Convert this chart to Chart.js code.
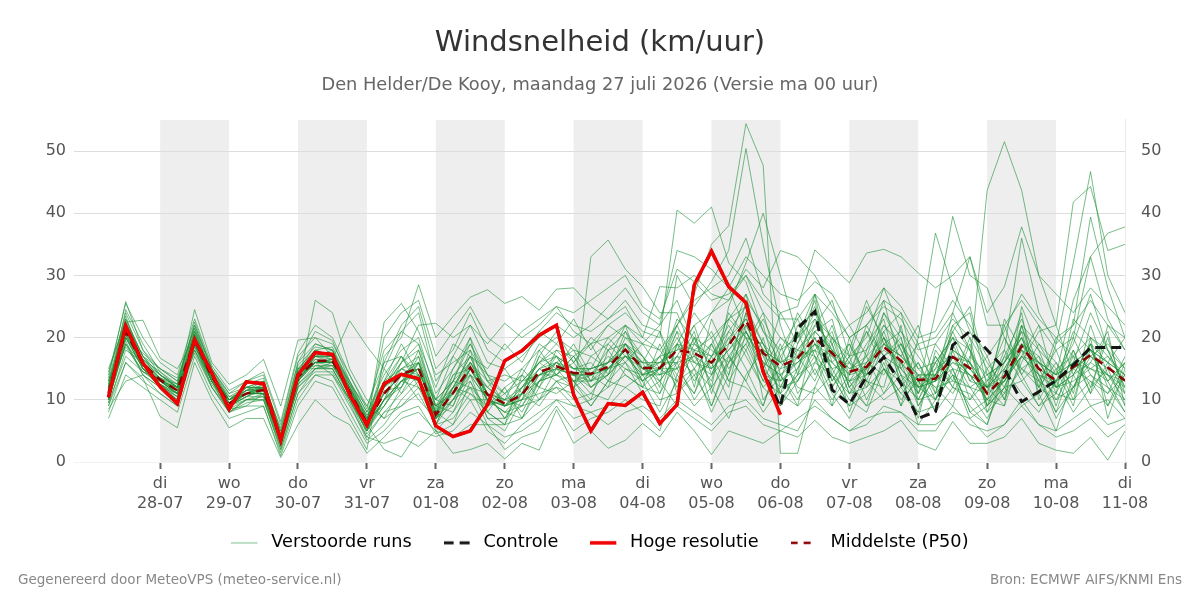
<!DOCTYPE html>
<html>
<head>
<meta charset="utf-8">
<title>Windsnelheid</title>
<script src="https://cdn.jsdelivr.net/npm/chart.js@4.4.1/dist/chart.umd.min.js"></script>
<style>
  body { margin: 0; background: #fff; font-family: "DejaVu Sans", sans-serif; }
  #wrap { position: relative; width: 1200px; height: 600px; }
  .voet { position: absolute; top: 571px; font-size: 13.5px; color: #888; }
</style>
</head>
<body>
<div id="wrap">
  <canvas id="myChart" width="1200" height="600"></canvas>
  <div class="voet" style="left:18px">Gegenereerd door MeteoVPS (meteo-service.nl)</div>
  <div class="voet" style="right:18px">Bron: ECMWF AIFS/KNMI Ens</div>
</div>
<script>
// uren t.o.v. di 28-07 00:00, elke 6 uur
var uren = [-18,-12,-6,0,6,12,18,24,30,36,42,48,54,60,66,72,78,84,90,96,
  102,108,114,120,126,132,138,144,150,156,162,168,174,180,186,192,198,204,210,216,
  222,228,234,240,246,252,258,264,270,276,282,288,294,300,306,312,318,324,330,336]

var dagUren = [0,24,48,72,96,120,144,168,192,216,240,264,288,312,336]
var dagNamen = ["di","wo","do","vr","za","zo","ma","di","wo","do","vr","za","zo","ma","di"]
var datums = ["28-07","29-07","30-07","31-07","01-08","02-08","03-08","04-08","05-08","06-08","07-08","08-08","09-08","10-08","11-08"]
var grijzeDagen = [0,48,96,144,192,240,288]
var yTicks = [0,10,20,30,40,50]

var hogeResolutie = [10.4,21.9,15.9,12.1,9.4,19.7,14.3,8.5,12.9,12.6,
  3.5,14.0,17.6,17.3,10.8,5.9,12.6,14.1,13.4,5.8,
  4.1,5.0,9.2,16.3,17.9,20.4,22.0,10.8,5.0,9.4,
  9.1,11.2,6.2,9.2,28.5,33.9,28.2,25.6,14.5,7.6]

var controle = [10.4,21.9,15.9,12.1,9.4,19.7,14.3,8.5,12.9,12.6,
  3.5,14.0,17.6,17.3,10.8,5.9,12.6,14.1,13.4,5.8,
  4.1,5.0,9.2,16.3,17.9,20.4,22.0,10.8,5.0,9.4,
  9.1,11.2,6.2,9.2,28.5,33.9,28.2,25.6,14.5,8.9,
  21.5,24.2,11.6,9.3,13.7,16.9,12.6,7.0,8.1,18.8,
  21.0,18.0,15.0,9.7,11.3,13.1,15.6,18.4,18.4,18.4]

var middelste = [11.1,21.0,15.8,13.2,11.5,19.6,13.7,9.4,11.0,11.6,
  3.7,13.7,16.3,16.3,11.3,6.3,11.0,14.1,15.1,7.6,
  11.1,15.2,10.8,9.4,10.8,14.5,15.4,14.3,14.2,15.3,
  18.1,15.1,15.1,18.0,17.5,16.0,18.8,22.7,17.5,15.4,
  16.7,19.9,17.5,14.5,15.3,18.5,16.3,13.2,13.4,16.9,
  15.1,11.0,13.7,18.6,15.0,13.1,15.3,17.2,15.2,13.1]

// verstoorde runs
var run1 = [12,23,17,14,12,21,14,10,12,12,4,15,18,17,12,7,
  12,15,17,9,14,17,11,7,12,16,17,13,14,18,19,14,15,
  22,27,35,38,54.4,47.7,1.4,1.4,12,18,11,14,24,20,10,16,12,19,8,14,22,12,16,10,19,9,14]
var run2 = [10,19,14,12,10,18,13,9,10,11,3,12,15,15,10,5,
  9,13,12,6,10,12,9,11,8,13,14,16,12,14,21,17,12,
  30,25,29,34,50.4,35,22,14,20,12,16,21,15,11,14,8,18,10,13,20,15,17,9,18,12,20,11]
var run3 = [13,24,18,15,13,22,15,11,12,13,5,16,19,18,13,8,
  14,18,20,11,15,20,14,13,15,18,20,18,17,19,22,19,18,
  14,20,12,25,32,40,30,20,27,14,9,18,26,15,19,11,22,24,12,9,25,18,11,23,20,7,15]
var run4 = [9,18,16,13,11,19,12,8,10,10,2,11,14,14,9,4,
  8,11,14,5,8,14,7,5,10,11,12,9,10,12,14,12,11,
  16,10,14,20,15,9,18,23,17,9,20,13,12,22,9,14,11,16,43.7,51.5,43.7,30,22,14,19,12,8]
var run5 = [14,25.5,20,16,14,23,15.5,11.5,13,14,6,17,20,19,14,9,
  16,22,25,15,18,24,18,16,18,21,24,22,21,23,26,22,21,
  11,15,8,14,22,17,11,19,24,20,12,9,17,13,7,18,14,9,6,14,21,11,19,32,46.7,30,24]
var run6 = [8,16,13,11,9,18,12,8.5,9,9,1.5,10,14,13,8,3,
  5,8,9,4.5,6,10,5,3,6,8,10,9,8,9,12,10,9,
  19,13,17,12,24,10,14,10,16,22,14,19,23,12,16,11,19,13,17,10,16,21,22,41.8,44.3,34,35]
var run7 = [11,20,15,13,12,20,14,9,11,12,4,14,17,16,11,6,
  22.5,25.5,21,14,16,18,13,11,13,16,18,17,19,22,24,21,20,
  40.5,38.4,41,32,29,21,16,24,19,13,17,25,20,14,10,15,22,18,9,16,20,13,8,16,24,18,12]
var run8 = [12.5,22,16.5,14,12,19,13,10,11.5,13,4.5,15,16,16,12,7.5,
  11,14,15,8,11,16,12,9,13,14,16,14,15,16,18,13,15,
  20,15,19,14,26,22,12,17,23,18,11,16,14,19,12,24,39.5,30,28,20,14,9,13,18,11,16,20]
var run9 = [10.5,21,15,12,10,20.5,14.5,9.5,12,11,3,13,17,17,11,5.5,
  10,13,16,7,9,15,10,9,10,17,15,12,14,17,15,14,17,
  12,18,9,16,20,13,19,11,15,10,14,22,17,9,20,36.8,28,21,16,12,19,14,7,12,16,21,9]
var run10 = [13,20,17.5,15,13,21.5,14,10.5,11,12.5,5.5,16,21,19.5,13,7,
  13,19,14,10,17,14,12,15,11,17,21,16,19,14,20,17,13,
  17,22,14,21,18,12,15,20,25,16,19,14,21,24,13,10,17,12,11,18,13,16,14,26,33,36.8,37.8]
var run11 = [11.5,24.5,19,14.5,12.5,22.5,15,10,12.5,13.5,4,14.5,18,18.5,12.5,9,
  7,9,11,6,7,11,8,6,7,10,12,11,33,35.7,31,28.2,24,
  24,17,21,15,19,24,14,9,21,23,13,17,11,16,9,14,20,16,10,9,17,22,12,20,14,11,17]
var run12 = [9.5,17,14.5,12.5,10.5,18.5,13.5,9,10.5,10.5,2.5,12.5,15.5,15.5,10.5,5,
  11.5,12,18,8.5,13,20,9,10,15,12,16,18,13,16,22,14,16,
  16,21,11,19,27,15,20,17,13,20,16,12,19,21,15,12,9,17,14,16,24,10,15,9,20,17,13]
var run13 = [15,22.5,22.8,16.7,15,20,13,8,9,11,3.5,13,16,14,10,4,
  3,4,2.5,5,1.4,2,3,0.5,3,1.9,8.4,3,5,2.2,3.5,6.2,4,
  8,5,1.2,5,4,3,5,4,6.7,4,3,4,5,6.7,3,1.9,6.5,3,3,4,7,3,1.9,1.4,4,0.3,5]
var run14 = [7,14,12,10,8,17,11,7,8,9,1,9,13,12,7,2,
  17,20,28.5,20,23.4,26.5,27.7,25.5,26.6,24.4,27.8,28,25,23,25,20,18,
  22,26,28,30,36,27,24,25,34.1,31.5,28.8,33.6,34.2,33,30.4,28,30,33,24,28.2,37.8,30,27,24,28,25,22]
var run15 = [12,23.5,16,13.5,11,21,14.5,9.5,11,12,4,14,17.5,16.5,11.5,6.5,
  15,11,16,10,9,16,13,9,11,18,14,12,17,15,16,19,15,
  21,12,23,17,13,20,10,14,27,19,8,15,22,18,11,19,15,8,10,17,15,13,18,11,22,14,10]
var run16 = [10,19.5,14,11,9,19,13,8,10,10.5,3,12,26,24,15,10,
  7,12,17,6,12,11,9,12,7,13,17,13,10,18,14,12,19,
  13,19,16,10,21,16,9,13,18,12,17,10,16,9,14,12,13,20,9,12,19,15,10,15,13,9,16]
var run17 = [11,21.5,15.5,13,11.5,20,14,9.5,11,11.5,3.5,14,16.5,16,11,6,
  10,16,22,22.3,20,22,19,22.3,20,22,25,21,19,20,22,20,28.2,
  28,30,27,26,31,28,34,33,30,25,20,22,25,23,18,19,23,20,15,18,36,24,19,22,26,22,20]
var run18 = [13.5,25.8,18,14,12,24.5,16,12.5,14,16.5,9,19.6,20,17,13,8,
  13,17,12,9,11,18,8,6,14,10,15,19,14,12,19,16,11,
  19,24,20,13,18,23,17,21,14,19,22,17,24,18,12,14,21,15,12,22,14,19,16,12,17,19,15]
var run19 = [9,16,13.5,7.3,5.5,16,10,5.5,7,7,0.7,6,10,7.5,6,1.4,
  4,7,8,5,4,6,6,4,5,7,10,7,8,6,8,9,7,
  10,8,6,9,10,7,6,5,10,7,5,6,9,8,5,5,9,6,5,6,10,6,4,5,7,4,6]
var run20 = [12,20.5,15,13,11,19.5,13.5,9,11,11,3.5,13.5,16,16.5,22.7,18.6,
  15,21,19,12,19,17,15,19,16,21,19,23,18,22,20,19,22,
  26,19,24,28,21,15,24,19,26,13,18,26,19,17,22,13,24,18,11,23,18,12,20,17,11,22,18]
var run21 = [10.5,22,16,12.5,10.5,20,14,10,11.5,12,4,14.5,19,18,12,7,
  12,14,10,7,14,15,11,7,11,15,13,14,11,15,18,12,15,
  15,11,17,22,17,12,9,15,20,15,10,8,15,11,8,17,12,10,15,10,22,14,8,12,18,13,8]
var run22 = [11.5,18.5,14.5,13.5,12,18,12.5,8.5,10,10,2.5,12,14.5,14.5,9.5,3.5,
  6,10,13,9,8,12,6,6,11,9,13,10,11,10,15,13,8,
  13,9,12,7,14,18,11,9,12,9,13,9,11,14,6,10,14,7,9,12,9,11,5,14,9,10,7]
var run23 = [14.5,23,17,15,13.5,21.5,15,11,13,14.5,6.5,17.5,22,20,14,8.5,
  18,21,24,13,17,22,16,15,17,20,22,20,22,25,28,24,22,
  34,33,31,28,33,30,27,26,29,27,22,24,28,25,20,21,26,22,17,21,27,23,20,22,39.4,28,20]
var run24 = [10,20,15,12,10,19,13,9,12,12,4.5,15,15,15,10,5,
  10,15,13,7,12,10,10,8,7,12,11,13,9,13,12,14,10,
  11,14,9,17,13,8,12,13,17,11,7,13,10,12,8,9,15,8,6,15,11,8,13,8,12,15,9]
var run25 = [12,21,16.5,13.5,12.5,21,14.5,10,11,12,3,13,17,17,12,6.5,
  16,17,14,10,13,19,13,14,13,16,19,16,20,18,21,15,17,
  18,22,24,26,30,24,20,18,22,26,17,20,28,21,17,13,21,25,14,11,22,19,14,19,27,18,12]
var run26 = [8.5,13,14,12,11,17.5,12,8,9.5,10,2,11,15,16,11,4.5,
  8,9,12,8,6,13,7,7,9,10,13,12,9,13,16,11,13,
  9,7,5,8,9,6,5,7,9,7,5,7,8,8,6,6,8,7,4,6,9,6,5,7,9,6,7]
var run27 = [13,22.5,17,14,12.5,22,15,10.5,12,13,5,15.5,18.5,18,12.5,7.5,
  12,16,19,9,12,17,14,11,14,19,17,15,15,20,17,16,21,
  15,17,13,23,25,14,13,16,18,21,12,15,20,13,16,10,17,14,12,13,18,16,12,13,15,14,11]
var run28 = [11,19,15.5,13,11.5,20.5,13,9.5,11,11,3.5,13,16,16,11,6,
  2,0.8,5,4.1,5,8,6,2,4,5,9,5,7,8,10,8,5,
  14,11,19,13,12,9,17,12,11,14,9,11,15,10,13,8,12,11,7,12,13,9,11,10,13,11,14]
var run29 = [10,21,16,13,11,19,14,9,10.5,12,3,14,17,18,10.5,5.5,
  9,13,15,8,13,12,11,9,12,14,14,17,12,15,18,13,15,
  23,20,15,24,20,19,13,22,24,17,14,21,17,20,11,16,20,13,12,17,23,15,13,21,18,13,16]
var run30 = [12.5,22,16,12.5,10,20,13.5,9.5,11.5,11.5,4,13.5,16,15.5,11.5,6.5,
  20,24,26,17,21,25,20,18,21,23,25,24,26,28,30,25,23,
  31,29,26,27,30,26,23,23,27,24,20,22,26,24,19,20,24,33,22,22,26,22,18,20,33,23,18]
var run31 = [11.5,20.5,16.5,14.5,12,20,14.5,10,11,11,3,13.5,17,16.5,12,6,
  12,17,13,8,15,19,14,9,12,16,14,17,13,19,16,13,17,
  22,16,19,23,20,15,12,18,17,14,19,13,20,15,11,17,13,12,14,16,20,13,11,17,15,13,16]
var run32 = [10.5,22.5,17,13,11,20.5,13,9,11.5,12.5,4.5,14.5,15.5,15,10,5,
  10,12,16,9,11,13,8,12,14,12,18,15,16,13,19,17,14,
  15,20,18,16,24,19,13,15,22,19,12,16,21,14,12,10,18,16,9,14,17,16,12,14,19,16,11]
var run33 = [12,21.5,16,12,10.5,18.5,13,9,11,11.5,4,13,16,16.5,11,7,
  13,15,14,6,12,17,10,8,9,14,16,13,15,16,17,15,13,
  17,14,16,20,23,18,16,13,19,15,16,14,17,19,13,15,17,14,12,15,19,17,13,16,15,17,14]
var run34 = [9.5,20,15,12.5,11,19,13,9.5,11,11,3.5,12.5,15,15.5,11,6,
  11,14,16,8,10,15,12,10,9,13,15,14,12,14,17,16,15,
  19,16,14,17,21,16,14,17,18,16,13,15,19,16,12,13,15,14,10,13,17,14,13,15,17,14,13]
var run35 = [12,22,15,13,12,20,14,9,10.5,12,4,14,17,17,11.5,6.5,
  12,16,18,10,13,16,11,10,12,15,17,15,14,16,19,15,16,
  18,19,17,21,25,19,16,18,21,18,15,17,20,17,14,14,18,16,12,15,20,16,14,16,18,16,14]
var run36 = [11,21,15.5,13,11,19.5,14,9.5,11,12,3.5,14,16,16,11,6,
  11,14,15,7,11,15,11,9,11,14,15,14,14,15,18,15,15,
  13,15,12,16,19,13,11,14,16,14,11,12,15,13,10,11,14,12,8,11,15,12,10,12,14,12,10]
var run37 = [10,19,14.5,13,12,19,13.5,10,12,12,4,15,18,17,12.5,7,
  9,14,13,8,12,14,10,8,11,13,14,13,13,14,17,14,14,
  21,18,20,23,27,21,18,20,23,20,17,18,22,19,15,16,20,18,13,16,21,18,15,17,20,18,15]
var run38 = [11.5,21.5,16,13.5,11.5,19,14,9,10.5,11.5,3.5,13,16.5,16,10.5,6,
  10,13,15,7,10,14,10,9,10,13,16,14,14,15,18,15,14,
  16,17,15,18,22,17,15,16,19,17,14,15,18,16,13,13,16,15,11,13,18,15,13,15,17,15,13]
var run39 = [12,20,16,14,12,20.5,14,10,11.5,12,4,14,16,16,11.5,6.5,
  12,15,16,8,12,16,11,10,11,15,16,15,15,16,19,16,16,
  19,18,17,19,23,18,16,17,21,18,15,16,19,17,14,14,17,16,12,14,19,16,14,16,18,16,14]
var run40 = [11,20.5,15.5,12.5,11,19.5,13,9,11,11,3,13.5,16,16.5,11,6,
  10,13,14,7,10,15,10,9,10,14,15,14,13,15,17,14,15,
  17,16,15,18,21,16,14,16,19,16,13,14,17,15,12,13,16,14,10,13,17,14,12,14,16,14,12]

var runs = [run1,run2,run3,run4,run5,run6,run7,run8,run9,run10,
  run11,run12,run13,run14,run15,run16,run17,run18,run19,run20,
  run21,run22,run23,run24,run25,run26,run27,run28,run29,run30,
  run31,run32,run33,run34,run35,run36,run37,run38,run39,run40]

var groen = "rgba(30,145,55,0.6)"

var datasets = []
datasets.push({
    label: "Hoge resolutie",
    data: hogeResolutie,
    borderColor: "#f00000",
    borderWidth: 3.5,
    order: 0
})
datasets.push({
    label: "Controle",
    data: controle,
    borderColor: "#151515",
    borderWidth: 3,
    borderDash: [10, 6],
    order: 1
})
datasets.push({
    label: "Middelste (P50)",
    data: middelste,
    borderColor: "#8b0000",
    borderWidth: 2.5,
    borderDash: [9, 6],
    order: 2
})
runs.forEach(function(r){
    datasets.push({
        label: "Verstoorde runs",
        data: r,
        borderColor: groen,
        borderWidth: 1,
        order: 3
    })
})

// lijntje voor de legenda: 26px lijn in een iets breder vakje
function legendaLijn(kleur, dikte, streep){
    var c = document.createElement("canvas")
    c.width = 31
    c.height = 6
    var g = c.getContext("2d")
    g.strokeStyle = kleur
    g.lineWidth = dikte
    g.setLineDash(streep)
    g.beginPath()
    g.moveTo(0, 3)
    g.lineTo(26, 3)
    g.stroke()
    return c
}

// grijze banden voor om-en-om dagen
var dagBanden = {
    id: "dagBanden",
    beforeDraw: function(chart){
        var ctx = chart.ctx
        var area = chart.chartArea
        var x = chart.scales.x
        ctx.save()
        ctx.fillStyle = "#eeeeee"
        grijzeDagen.forEach(function(d){
            var x1 = x.getPixelForValue(d)
            var x2 = x.getPixelForValue(d + 24)
            ctx.fillRect(x1, area.top, x2 - x1, area.bottom - area.top)
        })
        ctx.restore()
    }
}

// legenda iets omhoog schuiven
var legendaOmhoog = {
    id: "legendaOmhoog",
    afterLayout: function(chart){
        chart.legend.top -= 12
        chart.legend.bottom -= 12
    }
}

Chart.defaults.font.family = "DejaVu Sans"

const ctx = document.getElementById("myChart")
var chart = new Chart(ctx, {
    type: "line",
    data: {
        labels: uren,
        datasets: datasets
    },
    plugins: [dagBanden, legendaOmhoog],
    options: {
        responsive: false,
        animation: false,
        layout: { padding: { left: 0, right: 0, top: 0, bottom: 26.3 } },
        elements: {
            point: { radius: 0 },
            line: { tension: 0, fill: false }
        },
        scales: {
            x: {
                type: "linear",
                min: -30,
                max: 336,
                afterBuildTicks: function(scale){
                    scale.ticks = dagUren.map(function(v){ return { value: v } })
                },
                afterFit: function(scale){ scale.height = 52 },
                ticks: {
                    autoSkip: false,
                    maxRotation: 0,
                    padding: 4,
                    color: "#555",
                    font: { size: 16, lineHeight: 1.3 },
                    callback: function(value, index){
                        return [dagNamen[index], datums[index]]
                    }
                },
                grid: {
                    display: true,
                    drawOnChartArea: false,
                    drawTicks: true,
                    tickLength: 7,
                    tickWidth: 2,
                    tickColor: "#666"
                },
                border: { display: false }
            },
            y: {
                position: "left",
                min: 0,
                max: 55,
                afterBuildTicks: function(scale){
                    scale.ticks = yTicks.map(function(v){ return { value: v } })
                },
                afterFit: function(scale){ scale.width = 74 },
                ticks: { padding: 8, color: "#555", font: { size: 16 } },
                grid: {
                    drawTicks: false,
                    color: function(c){ return c.tick && c.tick.value === 0 ? "#f2f2f2" : "#dddddd" }
                },
                border: { display: false }
            },
            y2: {
                position: "right",
                min: 0,
                max: 55,
                afterBuildTicks: function(scale){
                    scale.ticks = yTicks.map(function(v){ return { value: v } })
                },
                afterFit: function(scale){ scale.width = 75 },
                ticks: { padding: 8, color: "#555", font: { size: 16 } },
                grid: { display: false },
                border: { display: true, color: "#eaeaea" }
            }
        },
        plugins: {
            title: {
                display: true,
                text: "Windsnelheid (km/uur)",
                color: "#333",
                font: { size: 29, weight: "normal" },
                padding: { top: 25.6, bottom: 0 }
            },
            subtitle: {
                display: true,
                text: "Den Helder/De Kooy, maandag 27 juli 2026 (Versie ma 00 uur)",
                color: "#666",
                font: { size: 17.8, weight: "normal" },
                padding: { top: 13.9, bottom: 24.3 }
            },
            legend: {
                position: "bottom",
                labels: {
                    usePointStyle: true,
                    pointStyleWidth: 31,
                    padding: 32,
                    color: "#222",
                    font: { size: 17.7 },
                    generateLabels: function(chart){
                        return [
                            { text: "Verstoorde runs", pointStyle: legendaLijn(groen, 1, []), lineWidth: 0, strokeStyle: groen, fillStyle: groen, datasetIndex: 3 },
                            { text: "Controle", pointStyle: legendaLijn("#151515", 3, [10, 6]), lineWidth: 0, strokeStyle: "#151515", fillStyle: "#151515", datasetIndex: 1 },
                            { text: "Hoge resolutie", pointStyle: legendaLijn("#f00000", 3.5, []), lineWidth: 0, strokeStyle: "#f00000", fillStyle: "#f00000", datasetIndex: 0 },
                            { text: "Middelste (P50)", pointStyle: legendaLijn("#8b0000", 2.5, [7, 6]), lineWidth: 0, strokeStyle: "#8b0000", fillStyle: "#8b0000", datasetIndex: 2 }
                        ]
                    }
                }
            },
            tooltip: { enabled: false }
        }
    }
})
</script>
</body>
</html>
